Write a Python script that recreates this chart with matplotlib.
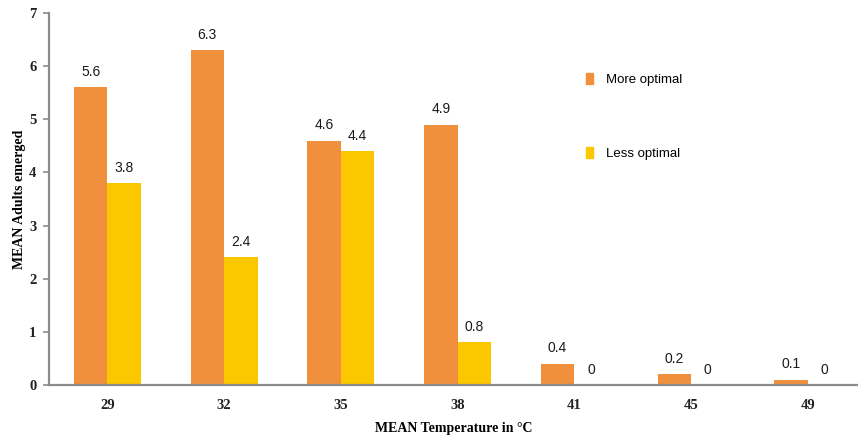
import numpy as np
import matplotlib.pyplot as plt
from matplotlib.patches import Patch

temps = ["29", "32", "35", "38", "41", "45", "49"]
more_optimal = [5.6, 6.3, 4.6, 4.9, 0.4, 0.2, 0.1]
less_optimal = [3.8, 2.4, 4.4, 0.8, 0, 0, 0]

orange = "#F0903D"
yellow = "#FDC700"
axis_grey = "#8C8C8C"

fig = plt.figure(figsize=(8.58, 4.37), dpi=100)
ax = fig.add_axes([0.0571, 0.119, 0.9429, 0.851])

x = np.arange(len(temps))
w = 0.287
b1 = ax.bar(x - w / 2, more_optimal, w, color=orange, label="More optimal")
b2 = ax.bar(x + w / 2, less_optimal, w, color=yellow, label="Less optimal")

# value labels above each bar
for bars, vals in ((b1, more_optimal), (b2, less_optimal)):
    for rect, v in zip(bars, vals):
        ax.annotate(f"{v:g}", (rect.get_x() + rect.get_width() / 2, v),
                    xytext=(0, 6), textcoords="offset points",
                    ha="center", va="bottom", fontsize=10,
                    family="Liberation Sans", color="#1a1a1a")

ax.set_xlim(-0.5, 6.43)
ax.set_ylim(0, 7)
ax.set_yticks(range(0, 8))
ax.set_xticks(x)
ax.set_xticklabels(temps)

for s in ("top", "right"):
    ax.spines[s].set_visible(False)
for s in ("left", "bottom"):
    ax.spines[s].set_color(axis_grey)
    ax.spines[s].set_linewidth(1.6)

ax.tick_params(axis="y", length=4, width=1.2, color=axis_grey, pad=5)
ax.tick_params(axis="x", length=0, pad=10)
for lab in ax.get_xticklabels() + ax.get_yticklabels():
    lab.set_family("Liberation Serif")
    lab.set_fontweight("bold")
    lab.set_fontsize(10.5)
    lab.set_color("#222222")

ax.set_xlabel("MEAN Temperature in °C", family="Liberation Serif",
              fontweight="bold", fontsize=10, labelpad=7)
ax.set_ylabel("MEAN Adults emerged", family="Liberation Serif",
              fontweight="bold", fontsize=10, labelpad=2)

handles = [Patch(color=orange), Patch(color=yellow)]
ax.legend(handles, ["More optimal", "Less optimal"], loc="upper left",
          bbox_to_anchor=(0.649, 0.87), frameon=False,
          handlelength=0.5, handleheight=0.9, handletextpad=1.0,
          labelspacing=4.6, prop={"family": "Liberation Sans", "size": 9.5})

fig.savefig("out.png", dpi=100)
